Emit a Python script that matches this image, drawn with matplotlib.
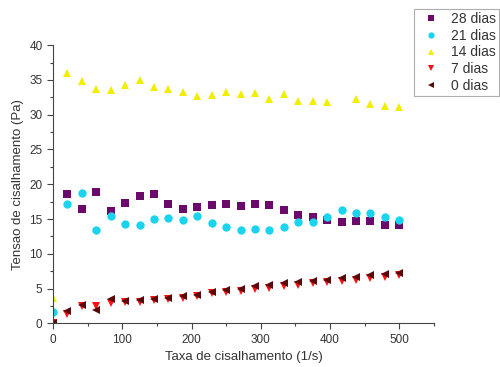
import numpy as np
import matplotlib.pyplot as plt

plt.rcParams['font.family'] = ['Liberation Sans', 'DejaVu Sans']

# Shear rate (1/s)
taxa = [0, 20.8, 41.7, 62.5, 83.3, 104.2, 125, 145.8, 166.7, 187.5, 208.3,
        229.2, 250, 270.8, 291.7, 312.5, 333.3, 354.2, 375, 395.8, 416.7,
        437.5, 458.3, 479.2, 500]

# Shear stress (Pa) per storage time
dias_28 = [np.nan, 18.6, 16.4, 18.9, 16.1, 17.3, 18.3, 18.6, 17.1, 16.4, 16.7,
           17.0, 17.1, 16.9, 17.2, 17.0, 16.3, 15.6, 15.3, 14.8, 14.6,
           14.7, 14.7, 14.1, 14.1]
dias_21 = [1.7, 17.2, 18.8, 13.4, 15.4, 14.3, 14.1, 15.0, 15.2, 14.9, 15.5,
           14.4, 13.9, 13.4, 13.5, 13.4, 13.8, 14.5, 14.5, 15.3, 16.3,
           15.9, 15.9, 15.3, 14.9]
dias_14 = [3.7, 36.0, 34.8, 33.7, 33.6, 34.3, 35.0, 34.0, 33.7, 33.3, 32.7,
           32.8, 33.2, 33.0, 33.1, 32.2, 33.0, 31.9, 31.9, 31.8, np.nan,
           32.2, 31.5, 31.3, 31.1]
dias_7 = [0.1, 1.4, 2.5, 2.5, 2.9, 3.1, 3.1, 3.4, 3.5, 3.7, 3.9,
          4.3, 4.45, 4.65, 4.9, 5.1, 5.4, 5.55, 5.75, 5.9, 6.1,
          6.3, 6.5, 6.6, 6.9]
dias_0 = [0.1, 1.8, 2.7, 1.9, 3.5, 3.2, 3.35, 3.5, 3.7, 4.0, 4.1,
          4.5, 4.75, 4.95, 5.3, 5.55, 5.85, 6.0, 6.1, 6.3, 6.5,
          6.7, 7.0, 7.05, 7.3]

series = [
    ("28 dias", dias_28, "s", "#6b0a6b"),
    ("21 dias", dias_21, "o", "#1ad4ef"),
    ("14 dias", dias_14, "^", "#f2ee00"),
    ("7 dias", dias_7, "v", "#ff1010"),
    ("0 dias", dias_0, "<", "#5a0808"),
]

fig = plt.figure(figsize=(5.0, 3.67), dpi=100)
ax = fig.add_axes([0.106, 0.119, 0.762, 0.758])

for label, vals, mk, col in series:
    ax.plot(taxa, vals, linestyle="none", marker=mk, markersize=6,
            color=col, markeredgewidth=0, label=label)

ax.set_xlim(0, 550)
ax.set_ylim(0, 40)
ax.set_xticks(range(0, 501, 100))
ax.set_xticks(range(50, 551, 100), minor=True)
ax.set_yticks(range(0, 41, 5))
ax.set_yticks(np.arange(2.5, 40, 5), minor=True)

for s in ("top", "right"):
    ax.spines[s].set_visible(False)
for s in ("left", "bottom"):
    ax.spines[s].set_color("#444444")
    ax.spines[s].set_linewidth(0.8)

ax.tick_params(which="major", length=4, width=0.8, color="#444444",
               labelsize=8.5, labelcolor="#333333")
ax.tick_params(which="minor", length=2.5, width=0.8, color="#444444")

ax.set_xlabel("Taxa de cisalhamento (1/s)", fontsize=9.5, color="#333333")
ax.set_ylabel("Tensao de cisalhamento (Pa)", fontsize=9.5, color="#333333")

leg = fig.legend(loc="upper left", bbox_to_anchor=(0.828, 0.976),
                 fontsize=10, frameon=True, fancybox=False,
                 handlelength=2.0, handletextpad=0.47, labelspacing=0.2,
                 borderpad=0.22, borderaxespad=0, markerscale=0.75)
leg.get_frame().set_edgecolor("#999999")
leg.get_frame().set_linewidth(0.8)
for t in leg.get_texts():
    t.set_color("#333333")

fig.savefig("out.png", dpi=100)
